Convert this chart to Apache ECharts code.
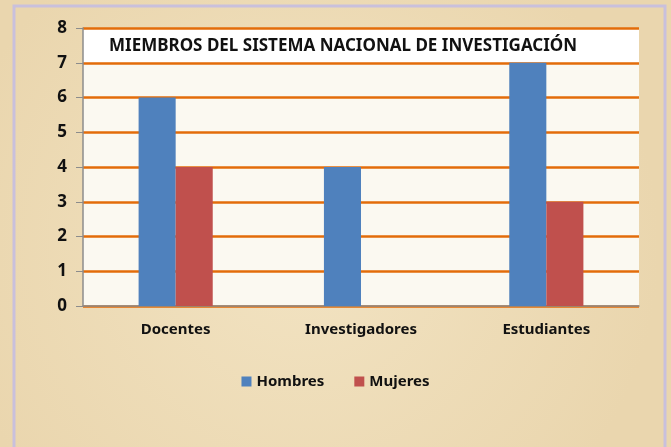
<!DOCTYPE html>
<html>
<head>
<meta charset="utf-8">
<script src="https://cdn.jsdelivr.net/npm/echarts@6/dist/echarts.min.js"></script>
<style>
  html, body { margin: 0; padding: 0; background: #efdeb9; }
  #chart { width: 671px; height: 447px; }
</style>
</head>
<body>
<div id="chart"></div>
<script>
// datos del grafico
var categorias = ['Docentes', 'Investigadores', 'Estudiantes'];
var hombres = [6, 4, 7];
var mujeres = [4, 0, 3];
var titulo = 'MIEMBROS DEL SISTEMA NACIONAL DE INVESTIGACIÓN';

var naranja = '#e36c0a';
var fuente = '"Noto Sans", sans-serif';

var myChart = echarts.init(document.getElementById('chart'), null, { renderer: 'canvas' });

myChart.setOption({
    backgroundColor: {
        type: 'radial', x: 0.45, y: 0.55, r: 0.8,
        colorStops: [
            { offset: 0, color: '#f2e3c2' },
            { offset: 1, color: '#ead6ae' }
        ]
    },
    animation: false,
    title: {
        text: titulo,
        left: 104,
        top: 33,
        z: 10,
        textStyle: { fontFamily: fuente, fontSize: 17, fontWeight: 'bold', color: '#111' }
    },
    graphic: [{
        // marco exterior
        type: 'rect',
        shape: { x: 14, y: 6, width: 651, height: 460 },
        style: { fill: 'none', stroke: '#c9c0dc', lineWidth: 3 },
        z: -1
    }],
    legend: {
        bottom: 53,
        left: 'center',
        itemWidth: 10,
        itemHeight: 10,
        itemGap: 30,
        icon: 'rect',
        textStyle: { fontFamily: fuente, fontSize: 15, fontWeight: 'bold', color: '#111' },
        data: ['Hombres', 'Mujeres']
    },
    grid: {
        left: 83, right: 32, top: 28, bottom: 141
    },
    xAxis: {
        type: 'category',
        data: categorias,
        z: 5,
        axisLine: { lineStyle: { color: '#8c8c8c', width: 1.5 } },
        axisTick: { show: false },
        axisLabel: { fontFamily: fuente, fontSize: 15, fontWeight: 'bold', color: '#111', margin: 16 }
    },
    yAxis: {
        type: 'value',
        min: 0, max: 8, interval: 1,
        z: 5,
        axisLine: { show: true, lineStyle: { color: '#8c8c8c', width: 1.5 } },
        axisTick: { show: true, length: 7, lineStyle: { color: '#8c8c8c' } },
        axisLabel: { fontFamily: fuente, fontSize: 17, fontWeight: 'bold', color: '#111', margin: 16 },
        splitLine: { lineStyle: { color: naranja, width: 2.5 } }
    },
    series: [{
        // fondo del area de trazado
        type: 'bar',
        data: [],
        z: 0,
        silent: true,
        markArea: {
            silent: true,
            data: [
                [{ yAxis: 0, itemStyle: { color: '#fbf9f1' } }, { yAxis: 7 }],
                [{ yAxis: 7, itemStyle: { color: '#ffffff' } }, { yAxis: 8 }]
            ]
        }
    }, {
        name: 'Hombres',
        type: 'bar',
        data: hombres,
        z: 8,
        barWidth: '20%',
        barGap: '0%',
        itemStyle: { color: '#4f81bd' }
    }, {
        name: 'Mujeres',
        type: 'bar',
        data: mujeres,
        z: 8,
        barWidth: '20%',
        itemStyle: { color: '#c0504d' }
    }]
});
</script>
</body>
</html>
